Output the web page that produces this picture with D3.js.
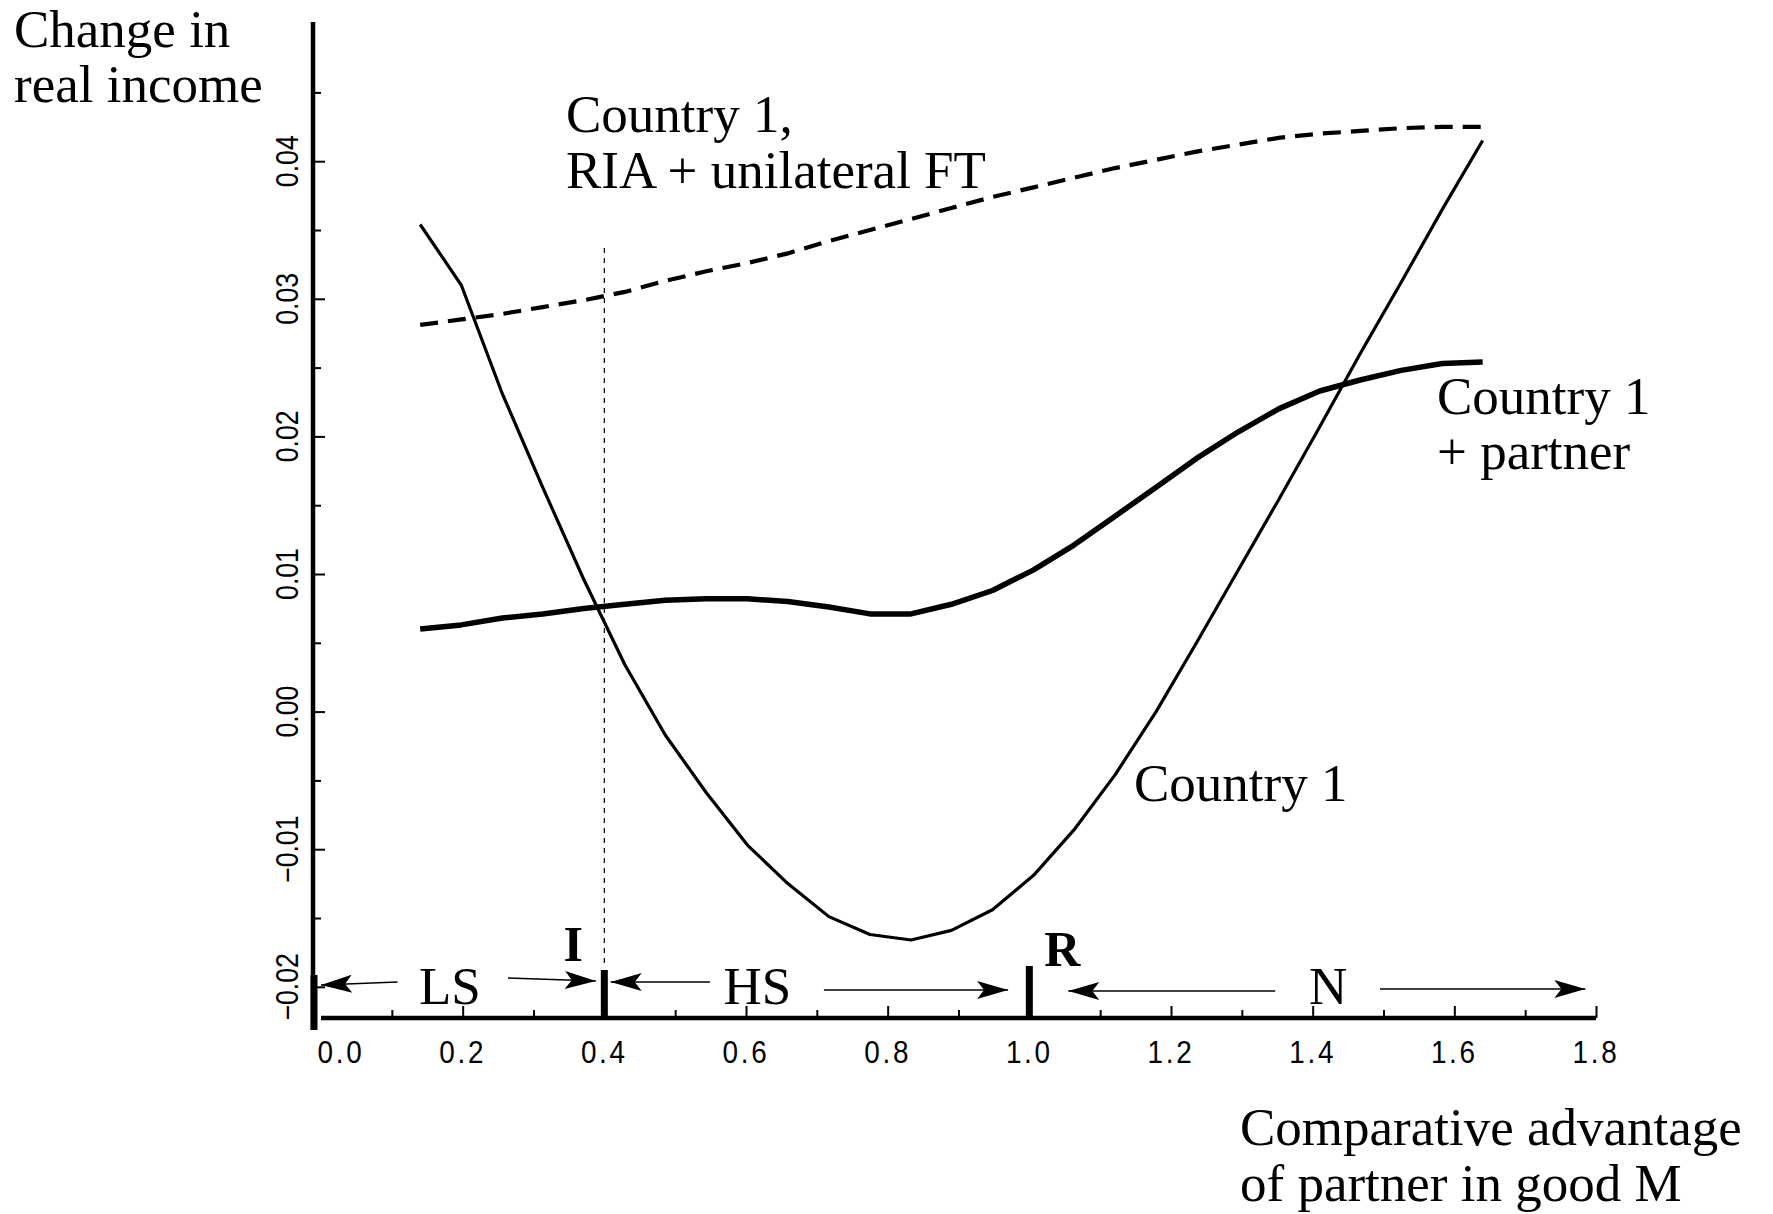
<!DOCTYPE html>
<html>
<head>
<meta charset="utf-8">
<script src="https://cdn.jsdelivr.net/npm/d3@7/dist/d3.min.js"></script>
<style>
  body { margin: 0; background: #fff; }
  svg { display: block; }
  .serif { font-family: "Liberation Serif", "Times New Roman", serif; font-size: 53px; fill: #000; }
  .bold { font-weight: bold; font-size: 50px; }
  .ticklab { font-family: "Liberation Sans Narrow", "Liberation Sans", Arial, sans-serif; font-size: 31px; fill: #000; }
</style>
</head>
<body>
<svg width="1773" height="1214"></svg>
<script>
// comparative advantage of partner (x) at which the curves were computed
var xs = [0.140, 0.198, 0.256, 0.313, 0.371, 0.429, 0.486, 0.544, 0.602, 0.659, 0.717, 0.775, 0.833, 0.890,
          0.948, 1.006, 1.063, 1.121, 1.179, 1.236, 1.294, 1.352, 1.410, 1.467, 1.525, 1.583, 1.640];

// change in real income
var country1 = [0.0354, 0.0310, 0.0231, 0.0163, 0.0096, 0.0034, -0.0017, -0.0059, -0.0097, -0.0125, -0.0149, -0.0162, -0.0166, -0.0159,
                -0.0144, -0.0119, -0.0086, -0.0046, 0.0000, 0.0050, 0.0102, 0.0154, 0.0207, 0.0260, 0.0312, 0.0365, 0.0415];
var country1Partner = [0.0060, 0.0063, 0.0068, 0.0071, 0.0075, 0.0078, 0.0081, 0.0082, 0.0082, 0.0080, 0.0076, 0.0071, 0.0071, 0.0078,
                       0.0088, 0.0103, 0.0121, 0.0142, 0.0163, 0.0184, 0.0203, 0.0220, 0.0233, 0.0241, 0.0248, 0.0253, 0.0254];
var riaUnilateral = [0.0281, 0.0285, 0.0289, 0.0294, 0.0299, 0.0305, 0.0313, 0.0320, 0.0326, 0.0333, 0.0342, 0.0350, 0.0358, 0.0366,
                     0.0374, 0.0381, 0.0388, 0.0395, 0.0401, 0.0407, 0.0412, 0.0417, 0.0420, 0.0422, 0.0424, 0.0425, 0.0425];

var xTicks = [0.0, 0.2, 0.4, 0.6, 0.8, 1.0, 1.2, 1.4, 1.6, 1.8];
var xMinor = [0.1, 0.3, 0.5, 0.7, 0.9, 1.1, 1.3, 1.5, 1.7];
var yTicks = [-0.02, -0.01, 0.00, 0.01, 0.02, 0.03, 0.04];
var yMinor = [-0.015, -0.005, 0.005, 0.015, 0.025, 0.035, 0.045];

// regime boundaries I and R, and the regions between them
var bounds = [{name: "I", x: 0.4}, {name: "R", x: 1.0}];
var regions = [
  {name: "LS", x: 0.182, from: [0.108, 0.0], to: [0.264, 0.388]},
  {name: "HS", x: 0.616, from: [0.549, 0.409], to: [0.710, 0.970]},
  {name: "N",  x: 1.422, from: [1.347, 1.055], to: [1.495, 1.785]}
];

var svg = d3.select("svg");

var x = d3.scaleLinear().domain([0, 1.8]).range([321, 1596]),
    y = d3.scaleLinear().domain([-0.02, 0.04]).range([986.8, 161.2]);

var axisY = 1018, yAxisX = 313;

// arrow head
svg.append("defs").append("marker")
    .attr("id", "head")
    .attr("markerUnits", "userSpaceOnUse")
    .attr("viewBox", "-32 -10 34 20")
    .attr("refX", 0).attr("refY", 0)
    .attr("markerWidth", 34).attr("markerHeight", 20)
    .attr("orient", "auto")
  .append("path")
    .attr("d", "M0,0 L-31,-9 L-24,0 L-31,9 Z")
    .attr("fill", "#000");

// minor and major ticks, x
svg.append("g")
    .attr("transform", "translate(0," + axisY + ")")
    .call(d3.axisBottom(x).tickValues(xMinor).tickSize(-8).tickFormat(""))
    .call(function(g) { g.select(".domain").remove(); })
    .selectAll("line").attr("stroke-width", 2);

svg.append("g")
    .attr("transform", "translate(0," + axisY + ")")
    .call(d3.axisBottom(x).tickValues(xTicks.slice(1)).tickSize(-12).tickFormat(""))
    .call(function(g) { g.select(".domain").remove(); })
    .selectAll("line").attr("stroke-width", 2);

svg.selectAll(".xlab")
  .data(xTicks)
  .enter().append("text")
    .attr("class", "ticklab xlab")
    .attr("transform", function(d) { return "translate(" + (x(d) + (d === 0 ? 20 : 0)) + ",1063) scale(0.9,1)"; })
    .attr("text-anchor", "middle")
    .style("letter-spacing", "3px")
    .text(d3.format(".1f"));

// y ticks
svg.append("g")
    .attr("transform", "translate(" + (yAxisX + 2) + ",0)")
    .call(d3.axisRight(y).tickValues(yMinor).tickSize(6).tickFormat(""))
    .call(function(g) { g.select(".domain").remove(); })
    .selectAll("line").attr("stroke-width", 2);

svg.append("g")
    .attr("transform", "translate(" + (yAxisX + 2) + ",0)")
    .call(d3.axisRight(y).tickValues(yTicks).tickSize(10).tickFormat(""))
    .call(function(g) { g.select(".domain").remove(); })
    .selectAll("line").attr("stroke-width", 2);

svg.selectAll(".ylab")
  .data(yTicks)
  .enter().append("text")
    .attr("class", "ticklab ylab")
    .attr("transform", function(d) { return "translate(298," + y(d) + ") rotate(-90) scale(0.86,1)"; })
    .attr("text-anchor", "middle")
    .text(d3.format(".2f"));

// axis lines
svg.append("line")
    .attr("x1", yAxisX).attr("x2", yAxisX)
    .attr("y1", 22).attr("y2", 1030)
    .attr("stroke", "#000").attr("stroke-width", 4.5);
svg.append("line")
    .attr("x1", yAxisX + 1).attr("x2", yAxisX + 1)
    .attr("y1", 975).attr("y2", 1030)
    .attr("stroke", "#000").attr("stroke-width", 7);
svg.append("line")
    .attr("x1", x(0)).attr("x2", x(1.8))
    .attr("y1", axisY).attr("y2", axisY)
    .attr("stroke", "#000").attr("stroke-width", 4.5);

// dotted guide at I
svg.append("line")
    .attr("x1", x(0.4)).attr("x2", x(0.4))
    .attr("y1", y(0.0337)).attr("y2", 968)
    .attr("stroke", "#000").attr("stroke-width", 1.2)
    .attr("stroke-dasharray", "5,5");

// curves
var line = d3.line()
    .x(function(d, i) { return x(xs[i]); })
    .y(function(d) { return y(d); });

svg.append("path").datum(riaUnilateral)
    .attr("d", line).attr("fill", "none")
    .attr("stroke", "#000").attr("stroke-width", 4.2)
    .attr("stroke-dasharray", "18,10");

svg.append("path").datum(country1Partner)
    .attr("d", line).attr("fill", "none")
    .attr("stroke", "#000").attr("stroke-width", 5.5)
    .attr("stroke-linejoin", "round");

svg.append("path").datum(country1)
    .attr("d", line).attr("fill", "none")
    .attr("stroke", "#000").attr("stroke-width", 3.2)
    .attr("stroke-linejoin", "round");

// regime boundaries
svg.selectAll(".bound")
  .data(bounds)
  .enter().append("line")
    .attr("x1", function(d) { return x(d.x); })
    .attr("x2", function(d) { return x(d.x); })
    .attr("y1", function(d) { return d.name === "I" ? 970 : 966; })
    .attr("y2", axisY)
    .attr("stroke", "#000").attr("stroke-width", 7);

svg.selectAll(".boundlab")
  .data(bounds)
  .enter().append("text")
    .attr("class", "serif bold")
    .attr("x", function(d) { return x(d.x) + (d.name === "I" ? -31 : 33); })
    .attr("y", function(d) { return d.name === "I" ? 961 : 966; })
    .attr("text-anchor", "middle")
    .text(function(d) { return d.name; });

// region labels and arrows
svg.selectAll(".reglab")
  .data(regions)
  .enter().append("text")
    .attr("class", "serif")
    .attr("x", function(d) { return x(d.x); })
    .attr("y", 1004)
    .attr("text-anchor", "middle")
    .text(function(d) { return d.name; });

var arrowY = {LS: [983, 979], HS: [982, 990], N: [991, 989]};
regions.forEach(function(r) {
  var ay = arrowY[r.name];
  svg.append("line")
      .attr("x1", x(r.from[0])).attr("y1", r.name === "LS" ? 982 : ay[0])
      .attr("x2", x(r.from[1])).attr("y2", r.name === "LS" ? 985 : ay[0])
      .attr("stroke", "#000").attr("stroke-width", 1.6)
      .attr("marker-end", "url(#head)");
  svg.append("line")
      .attr("x1", x(r.to[0])).attr("y1", r.name === "LS" ? 978 : ay[1])
      .attr("x2", x(r.to[1])).attr("y2", r.name === "LS" ? 981 : ay[1])
      .attr("stroke", "#000").attr("stroke-width", 1.6)
      .attr("marker-end", "url(#head)");
});

// annotations
function label(lines, x0, y0, dy) {
  var t = svg.append("text").attr("class", "serif");
  lines.forEach(function(s, i) {
    t.append("tspan").attr("x", x0).attr("y", y0 + i * dy).text(s);
  });
}
label(["Change in", "real income"], 14, 47, 55);
label(["Country 1,", "RIA + unilateral FT"], 566, 132, 56);
label(["Country 1", "+ partner"], 1437, 414, 55);
label(["Country 1"], 1134, 801, 0);
label(["Comparative advantage", "of partner in good M"], 1240, 1145, 56);
</script>
</body>
</html>
